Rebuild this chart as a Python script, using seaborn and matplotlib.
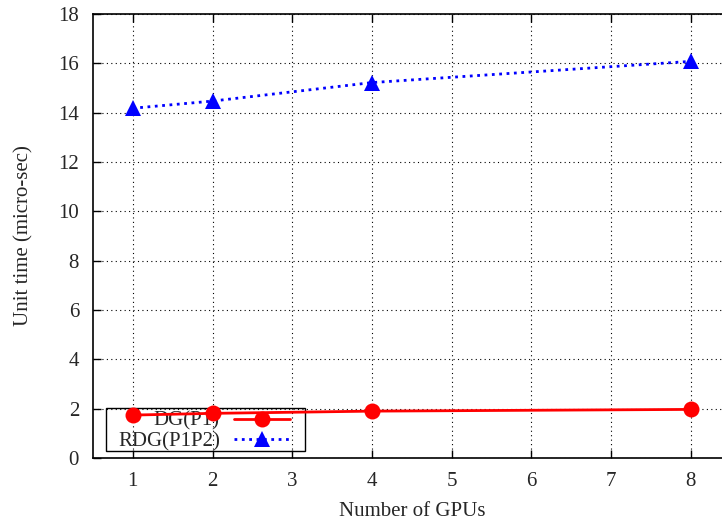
import matplotlib
matplotlib.use("Agg")
import matplotlib.pyplot as plt
from matplotlib.patches import Rectangle
import seaborn as sns
import pandas as pd

gpus = [1, 2, 4, 8]
dg_p1 = [1.74, 1.81, 1.90, 1.97]
rdg_p1p2 = [14.18, 14.47, 15.22, 16.08]
series_names = ["DG(P1)", "RDG(P1P2)"]
x_ticks = [1, 2, 3, 4, 5, 6, 7, 8]
y_ticks = [0, 2, 4, 6, 8, 10, 12, 14, 16, 18]

df = pd.DataFrame({
    "gpus": gpus * 2,
    "time": dg_p1 + rdg_p1p2,
    "series": [series_names[0]] * len(gpus) + [series_names[1]] * len(gpus),
})

sns.set_style("ticks")
plt.rcParams["font.family"] = ["Liberation Serif", "DejaVu Serif"]
plt.rcParams["font.size"] = 15

fig = plt.figure(figsize=(7.22, 5.24), dpi=100)
ax = fig.add_axes([93 / 722, 66 / 524, 8 * 79.7 / 722, 444 / 524])

styles = {
    series_names[0]: dict(color="#ff0000", linestyle="-", marker="o", markersize=11.5, linewidth=2.0),
    series_names[1]: dict(color="#0000ff", linestyle=":", marker="^", markersize=11, linewidth=2.0),
}
for name in series_names:
    sub = df[df["series"] == name]
    sns.lineplot(data=sub, x="gpus", y="time", ax=ax, label=name,
                 markeredgewidth=0, zorder=5, **styles[name])

ax.set_xlim(0.5, 8.5)
ax.set_ylim(0, 18)
ax.set_xticks(x_ticks)
ax.set_yticks(y_ticks)
ax.tick_params(direction="in", length=6, width=1, top=True, right=True,
               labelsize=15, pad=10, color="black")
ax.grid(True, linestyle=(0, (1, 3)), color="black", linewidth=0.8)
for s in ax.spines.values():
    s.set_linewidth(1.2)
    s.set_color("black")

ax.set_xlabel("Number of GPUs", fontsize=15, labelpad=8)
ax.set_ylabel("Unit time (micro-sec)", fontsize=15, labelpad=18)

leg = ax.legend(loc="lower right", bbox_to_anchor=(0.309, 0.0146),
                borderaxespad=0, markerfirst=False, frameon=False,
                handlelength=2.7, handletextpad=0.67,
                labelspacing=0.05, borderpad=0.0, fontsize=15)
leg.set_zorder(3)
ax.add_patch(Rectangle((0.0204, 0.0158), 0.312, 0.0968, transform=ax.transAxes,
                       fill=False, edgecolor="black", linewidth=1.0, zorder=3))

fig.savefig("out.png", dpi=100)
